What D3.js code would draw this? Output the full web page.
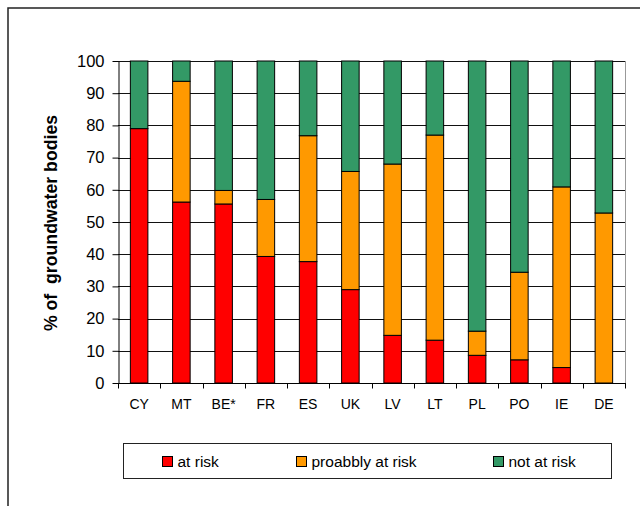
<!DOCTYPE html>
<html>
<head>
<meta charset="utf-8">
<script src="https://cdn.jsdelivr.net/npm/d3@7"></script>
<style>
  html, body { margin: 0; padding: 0; background: #fff; }
  svg { display: block; font-family: "Liberation Sans", Arial, sans-serif; }
</style>
</head>
<body>
<svg id="chart" width="640" height="506"></svg>
<script>
// Share of groundwater bodies by risk class, per country (%)
const countries = ["CY", "MT", "BE*", "FR", "ES", "UK", "LV", "LT", "PL", "PO", "IE", "DE"];
const atRisk         = [79.0, 56.2, 55.6, 39.3, 37.7, 29.0, 14.8, 13.3, 8.6, 7.2, 4.8, 0.0];
const probablyAtRisk = [0.0, 37.5, 4.2, 17.7, 39.1, 36.7, 53.2, 63.7, 7.5, 27.2, 56.1, 52.8];
const notAtRisk      = [21.0, 6.3, 40.2, 43.0, 23.2, 34.3, 32.0, 23.0, 83.9, 65.6, 39.1, 47.2];
const yTicks = [0, 10, 20, 30, 40, 50, 60, 70, 80, 90, 100];
const seriesNames = ["at risk", "proabbly at risk", "not at risk"];
const seriesColors = ["#ff0000", "#ff9900", "#339966"];

const svg = d3.select("#chart");

// outer chart frame (runs off the right and bottom edges)
svg.append("rect")
  .attr("x", 8).attr("y", 8).attr("width", 700).attr("height", 600)
  .attr("fill", "none").attr("stroke", "#222").attr("stroke-width", 1.5);

const plot = { left: 118, right: 625, top: 61, bottom: 383 };

const x = d3.scaleBand()
  .domain(countries)
  .range([plot.left, plot.right])
  .paddingInner(0.585).paddingOuter(0.2925);

const y = d3.scaleLinear().domain([0, 100]).range([plot.bottom, plot.top]);

// gridlines
svg.append("g")
  .selectAll("line")
  .data(yTicks.filter(t => t > 0))
  .join("line")
  .attr("x1", plot.left).attr("x2", plot.right)
  .attr("y1", d => Math.round(y(d)) + 0.5).attr("y2", d => Math.round(y(d)) + 0.5)
  .attr("stroke", "#111").attr("stroke-width", 1);

// right edge of plot area
svg.append("line")
  .attr("x1", plot.right + 0.5).attr("x2", plot.right + 0.5)
  .attr("y1", plot.top).attr("y2", plot.bottom)
  .attr("stroke", "#999").attr("stroke-width", 1);

// stacked bars
const rows = countries.map((c, i) => ({
  country: c,
  "at risk": atRisk[i],
  "proabbly at risk": probablyAtRisk[i],
  "not at risk": notAtRisk[i]
}));
const stacked = d3.stack().keys(seriesNames)(rows);

svg.append("g")
  .selectAll("g")
  .data(stacked)
  .join("g")
  .attr("fill", (d, i) => seriesColors[i])
  .selectAll("rect")
  .data(d => d.filter(p => p[1] - p[0] > 0))
  .join("rect")
  .attr("x", d => x(d.data.country))
  .attr("width", x.bandwidth())
  .attr("y", d => y(d[1]))
  .attr("height", d => y(d[0]) - y(d[1]))
  .attr("stroke", "#000").attr("stroke-width", 1);

// y axis
const yAxis = svg.append("g")
  .attr("transform", `translate(${plot.left + 0.5},0)`)
  .call(d3.axisLeft(y).tickValues(yTicks).tickSize(6).tickPadding(8).tickSizeOuter(0));
yAxis.select(".domain").attr("stroke", "#000");
yAxis.selectAll(".tick line").attr("stroke", "#000");
yAxis.selectAll("text").attr("font-size", 16.5).attr("fill", "#000")
  .attr("font-family", "'Liberation Sans', Arial, sans-serif");

// x axis with ticks at band boundaries
const xAxisG = svg.append("g").attr("transform", `translate(0,${plot.bottom + 0.5})`);
xAxisG.append("line")
  .attr("x1", plot.left).attr("x2", plot.right + 1)
  .attr("stroke", "#000");
const step = x.step();
xAxisG.selectAll(".xt")
  .data(d3.range(countries.length + 1))
  .join("line")
  .attr("class", "xt")
  .attr("x1", i => Math.round(plot.left + i * step) + 0.5)
  .attr("x2", i => Math.round(plot.left + i * step) + 0.5)
  .attr("y1", 0).attr("y2", 5)
  .attr("stroke", "#000");
xAxisG.selectAll(".xl")
  .data(countries)
  .join("text")
  .attr("class", "xl")
  .attr("x", d => x(d) + x.bandwidth() / 2)
  .attr("y", 25)
  .attr("text-anchor", "middle")
  .attr("font-size", 14)
  .attr("fill", "#000")
  .text(d => d);

// y axis title
svg.append("text")
  .attr("transform", `translate(56.5,${(plot.top + plot.bottom) / 2 + 1}) rotate(-90)`)
  .attr("text-anchor", "middle")
  .attr("font-size", 17.7)
  .attr("font-weight", "bold")
  .attr("fill", "#000")
  .style("white-space", "pre")
  .text("% of  groundwater bodies");

// legend
const legend = svg.append("g");
legend.append("rect")
  .attr("x", 123.5).attr("y", 443.5).attr("width", 488).attr("height", 35)
  .attr("fill", "#fff").attr("stroke", "#222").attr("stroke-width", 1);
const legendX = [162.5, 296.5, 493.5];
const items = legend.selectAll(".li")
  .data(seriesNames)
  .join("g")
  .attr("class", "li")
  .attr("transform", (d, i) => `translate(${legendX[i]},456.5)`);
items.append("rect")
  .attr("width", 10).attr("height", 10)
  .attr("fill", (d, i) => seriesColors[i])
  .attr("stroke", "#000");
items.append("text")
  .attr("x", 15).attr("y", 10.5)
  .attr("font-size", 15.5)
  .attr("fill", "#000")
  .text(d => d);
</script>
</body>
</html>
